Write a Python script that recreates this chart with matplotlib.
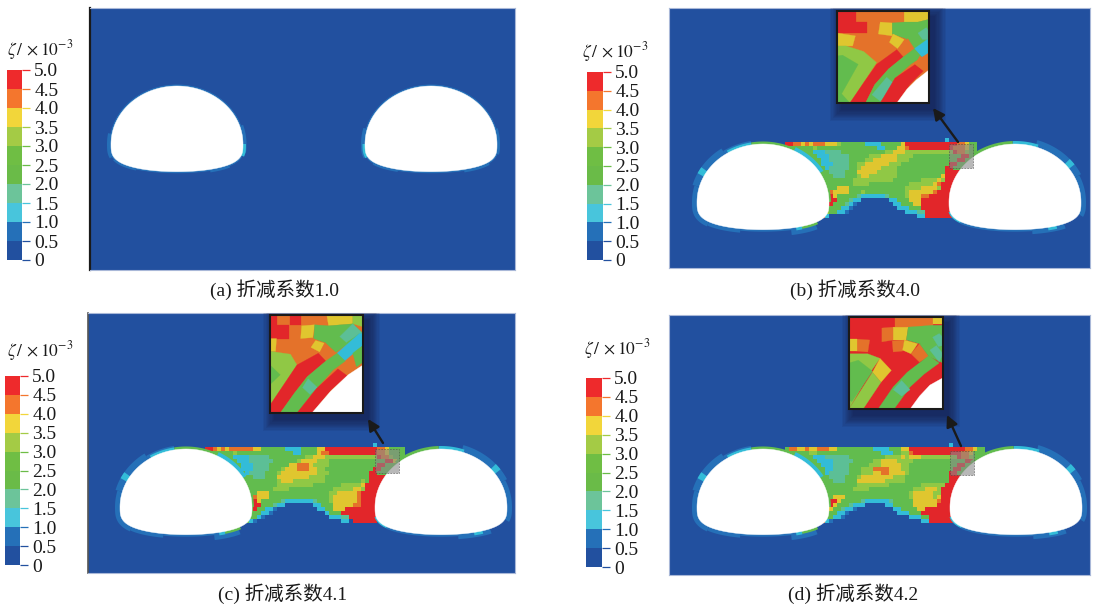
import numpy as np
import matplotlib
matplotlib.use("Agg")
import matplotlib.pyplot as plt
from matplotlib.colors import ListedColormap, BoundaryNorm
from matplotlib.patches import Polygon, Rectangle

plt.rcParams['font.family'] = ['Liberation Serif', 'Noto Sans CJK SC']
plt.rcParams['mathtext.fontset'] = 'stix'

# colour classes of zeta, 0-0.5 up to 4.5-5.0
levels = [0, 0.5, 1.0, 1.5, 2.0, 2.5, 3.0, 3.5, 4.0, 4.5, 5.0]
level_labels = ['0', '0.5', '1.0', '1.5', '2.0', '2.5', '3.0', '3.5', '4.0', '4.5', '5.0']
bar_colors = ['#22509f', '#2570b8', '#48c5dc', '#6cc49a', '#6abb48', '#6fbe44', '#a4cb45', '#f2d63a', '#f4762d', '#ee2a2c']
field_colors = ['#22509f', '#2570b8', '#33bcd8', '#5cbf96', '#60bb50', '#62bc4e', '#90c845', '#e0c62f', '#e4722a', '#e2262a']
captions = ['(a) 折减系数1.0', '(b) 折减系数4.0', '(c) 折减系数4.1', '(d) 折减系数4.2']

# element classes between the tunnels, one digit per 4 px cell
field_b = [
    "0000000000 0000000000 0000000000 0000000000 20000000",
    "9988787888 7776555555 2222555557 9999999999 99988755",
    "5555555655 5555555555 5552255577 8999999999 99888755",
    "5555555222 3333555555 5555566777 6666666666 66988655",
    "5555555522 2333335555 5666777766 6655555555 55559955",
    "5555555552 2333335555 6677777766 6555555555 55599555",
    "5555555552 2233335566 7777776665 5555555555 59955555",
    "5555555555 2333335567 7777666655 5555555555 99555555",
    "5555555555 5333355577 7776666655 5555555555 99999999",
    "5555555555 5533355567 7666666655 5555555557 99999999",
    "5555555555 5555555666 6666666555 5555666676 99999999",
    "5555555555 5555555666 6555555555 5666666789 99999999",
    "5555555555 5557775555 5555555555 6666777769 99999999",
    "5555555555 5877775556 5555555555 6777777899 99999999",
    "5555555555 5975555532 2222235555 6777889999 99999999",
    "5555555555 5995553220 0000002255 5777999999 99999999",
    "5555555555 9955532100 0000000225 5577999999 99999999",
    "5555555555 5555221000 0000000022 2555999999 99999999",
    "5555555557 6552210000 0000000000 2223399999 99999999",
    "5555555558 2000000000 0000000000 0002299999 99000000",
    "0000000000 0000000000 0000000000 0000000000 00000000",
]
field_c = [
    "0000000000 0000000000 0000000000 0000000000 0020000000",
    "9987878888 8877555555 2222555577 9999999999 9998875555",
    "5555555655 5555555555 5522555578 8999999999 9998875555",
    "5555555222 2333335555 5555566777 6666666666 6669886555",
    "5555555522 2333333555 5556777766 6555555555 5555599755",
    "5555555552 2233335555 5778887666 6555555555 5559955555",
    "5555555552 2233335556 7778887766 5555555555 5599555555",
    "5555555555 2333355567 7777777766 6555555555 5995555555",
    "5555555555 5533355577 7777776666 5555555555 5999999999",
    "5555555555 5555555567 7766666666 5555555556 5999999999",
    "5555555555 5555555566 6666666555 5555666667 9999999999",
    "5555555555 5555555666 6555555555 5566666776 9999999999",
    "5555555555 5557775555 5555555555 5667777789 9999999999",
    "5555555555 5587775555 5555555555 5677777789 9999999999",
    "5555555555 5597555553 2222222355 5677777789 9999999999",
    "5555555555 5599555322 0000000225 5577777889 9999999999",
    "5555555555 5595522100 0000000022 5577799999 9999999999",
    "5555555555 5555221000 0000000000 2555999999 9999999999",
    "5555555555 5552100000 0000000000 0222339999 9999999999",
    "5555555557 5210000000 0000000000 0000220999 9990000000",
    "0000000000 0000000000 0000000000 0000000000 0000000000",
]
field_d = [
    "0000000000 0000000000 0000000000 0000000000 0200000000",
    "5887787788 8775555555 5522225557 7999999999 9999988755",
    "5555556655 5555555555 5555222556 6899999999 9999887555",
    "5555555222 3333335555 5555566667 6777666666 6669886555",
    "5555555522 2233333555 5566777766 6655555555 5555599755",
    "5555555552 2233335555 5666777776 6555555555 5559955555",
    "5555555555 2233335556 6688887776 6555555555 5599555555",
    "5555555555 2333335556 6677887777 6555555555 5995555555",
    "5555555555 5333355567 7777777666 5555555555 5999999999",
    "5555555555 5533355577 7777766666 5555555555 5999999999",
    "5555555555 5555555566 6666665555 5555666666 9999999999",
    "5555555555 5555555666 6555555555 5566677769 9999999999",
    "5555555555 5555555555 5555555555 5677777669 9999999999",
    "5555555555 5577755555 5555555555 5677777679 9999999999",
    "5555555555 5997555553 2222223555 5577777789 9999999999",
    "5555555555 5975553222 0000022555 5577777799 9999999999",
    "5555555555 5755322100 0000000225 5557799999 9999999999",
    "5555555555 5552210000 0000000022 2555999999 9999999999",
    "5555555555 5522100000 0000000000 0222559999 9999999999",
    "5555555558 2100000000 0000000000 0000229999 9990000000",
    "0000000000 0000000000 0000000000 0000000000 0000000000",
]

# bands around the openings: start angle, end angle, class, width px
rings_a_left = [(0, 360, 1, 1.5), (170, 195, 1, 4), (200, 232, 1, 2.5), (300, 322, 1, 3), (352, 378, 1, 3.5), (347, 360, 2, 3)]
rings_a_right = [(0, 360, 1, 1.5), (165, 195, 1, 4), (180, 196, 2, 2.5), (210, 240, 1, 2.5), (300, 330, 1, 3), (350, 375, 1, 3)]
rings_left = [(125, 165, 1, 7), (165, 215, 1, 5), (215, 250, 1, 4), (250, 300, 1, 2), (295, 322, 1, 7),
              (100, 125, 1, 4), (100, 122, 2, 2.5), (148, 154, 2, 7), (62, 100, 5, 2.5), (30, 62, 2, 4),
              (0, 30, 5, 2), (306, 325, 5, 2.5), (300, 306, 2, 3)]
rings_right = [(25, 72, 1, 7), (345, 385, 1, 5), (285, 318, 1, 5), (215, 285, 1, 2), (35, 41, 2, 7),
               (300, 309, 2, 3), (70, 92, 2, 3), (92, 132, 5, 3), (190, 215, 2, 1.5)]

# close-up polygons, (class, u, v points in percent of the inset box)
inset_b = [
    (9, [(0, 0), (21, 0), (21, 12), (33, 12), (33, 24), (0, 24)]),
    (7, [(73, 0), (100, 0), (100, 9), (88, 12), (73, 12)]),
    (7, [(0, 24), (20, 27), (17, 38), (0, 38)]),
    (7, [(47, 12), (60, 13), (60, 27), (45, 25)]),
    (5, [(60, 13), (73, 12), (88, 12), (100, 9), (100, 30), (85, 45), (75, 30), (60, 25)]),
    (7, [(61, 25), (73, 31), (66, 41), (57, 34)]),
    (3, [(88, 24), (97, 18), (100, 22), (100, 31), (93, 31)]),
    (2, [(84, 41), (98, 31), (100, 32), (100, 45), (92, 50)]),
    (8, [(66, 41), (77, 30), (84, 41), (72, 52)]),
    (6, [(0, 38), (10, 38), (29, 44), (43, 56), (14, 100), (0, 100)]),
    (5, [(0, 49), (6, 48), (23, 58), (5, 90), (0, 85)]),
    (5, [(0, 85), (5, 90), (14, 100), (0, 100)]),
    (9, [(14, 100), (29, 78), (43, 58), (65, 42), (72, 50), (56, 63), (41, 80), (31, 100)]),
    (5, [(31, 100), (41, 80), (56, 63), (72, 50), (84, 41), (92, 50), (80, 58), (63, 73), (47, 100)]),
    (3, [(38, 91), (54, 72), (63, 80), (47, 98)]),
    (9, [(47, 100), (63, 73), (85, 58), (94, 65), (79, 80), (65, 100)]),
    (8, [(90, 49), (100, 55), (100, 63), (94, 65), (85, 58)]),
]
inset_b_hole = [(100, 64), (86, 75), (76, 85), (65, 100), (100, 100)]
inset_c = [
    (9, [(0, 0), (8, 0), (8, 10), (20, 10), (20, 24), (0, 24)]),
    (9, [(21, 0), (33, 0), (33, 10), (21, 10)]),
    (7, [(61, 0), (89, 0), (89, 9), (63, 11)]),
    (6, [(89, 0), (100, 0), (100, 12), (89, 9)]),
    (7, [(34, 11), (48, 10), (46, 23), (33, 24)]),
    (7, [(0, 24), (7, 24), (6, 37), (0, 37)]),
    (5, [(48, 10), (63, 11), (89, 9), (100, 19), (100, 28), (86, 28), (71, 38), (59, 28), (47, 24)]),
    (7, [(49, 26), (59, 29), (54, 38), (44, 33)]),
    (3, [(75, 22), (89, 9), (100, 19), (96, 19), (82, 28)]),
    (2, [(72, 39), (96, 19), (100, 19), (100, 31), (80, 47)]),
    (5, [(89, 39), (100, 31), (100, 48), (93, 53)]),
    (8, [(73, 56), (83, 47), (93, 53), (83, 61)]),
    (8, [(59, 28), (70, 39), (59, 46), (53, 39)]),
    (6, [(0, 37), (22, 40), (29, 51), (0, 92)]),
    (5, [(0, 51), (11, 61), (0, 71)]),
    (9, [(0, 92), (17, 68), (29, 51), (52, 39), (60, 47), (40, 63), (26, 80), (11, 100), (0, 100)]),
    (5, [(11, 100), (26, 80), (40, 63), (60, 47), (72, 39), (81, 47), (68, 56), (50, 75), (29, 100)]),
    (3, [(35, 74), (41, 65), (51, 74), (43, 81)]),
    (9, [(29, 100), (50, 75), (73, 55), (83, 62), (66, 76), (45, 100)]),
]
inset_c_hole = [(100, 51), (84, 61), (65, 78), (45, 100), (100, 100)]
inset_d = [
    (8, [(49, 0), (89, 0), (89, 11), (49, 11)]),
    (7, [(89, 0), (100, 0), (100, 8), (89, 8)]),
    (8, [(35, 12), (47, 11), (47, 25), (35, 27)]),
    (7, [(47, 11), (63, 11), (61, 25), (47, 25)]),
    (5, [(63, 11), (89, 9), (100, 9), (100, 22), (86, 27), (75, 29), (61, 25)]),
    (8, [(46, 26), (59, 25), (57, 37), (47, 38)]),
    (7, [(59, 25), (73, 29), (66, 40), (57, 36)]),
    (8, [(8, 24), (22, 25), (20, 38), (8, 37)]),
    (7, [(0, 24), (8, 24), (8, 37), (0, 37)]),
    (8, [(66, 40), (75, 29), (85, 43), (75, 49)]),
    (5, [(75, 29), (91, 20), (100, 23), (100, 50), (85, 43)]),
    (3, [(86, 36), (93, 31), (100, 40), (96, 49)]),
    (3, [(89, 22), (96, 18), (100, 22), (100, 31), (95, 32)]),
    (6, [(0, 40), (20, 40), (33, 45), (22, 61), (0, 100)]),
    (5, [(0, 50), (10, 47), (25, 59), (3, 92), (0, 90)]),
    (7, [(33, 45), (45, 58), (34, 71), (25, 60)]),
    (6, [(25, 60), (34, 71), (15, 100), (0, 100)]),
    (5, [(31, 100), (47, 76), (62, 60), (85, 42), (96, 50), (80, 62), (65, 76), (48, 100)]),
    (3, [(47, 79), (56, 69), (65, 79), (56, 86)]),
]
inset_d_hole = [(100, 66), (86, 74), (75, 86), (65, 100), (100, 100)]

W, H = 1095, 607
cmap = ListedColormap(field_colors)
norm = BoundaryNorm(levels, 10)


def tunnelOutline(cx, sy, t):
	t = np.radians(t)
	x = cx + 66 * np.cos(t)
	up = np.sin(t)
	y = np.where(up >= 0, sy - 58 * up, sy + 27.7 * np.abs(up) ** 0.6)
	return x, y


def pxAxes(x0, y0, x1, y1):
	return fig.add_axes([x0 / W, 1 - y1 / H, (x1 - x0) / W, (y1 - y0) / H])


def drawPanel(box, centers, sy, ringsL, ringsR):
	ax = pxAxes(*box)
	ax.set_xlim(box[0], box[2])
	ax.set_ylim(box[3], box[1])
	ax.set_facecolor(field_colors[0])
	ax.set_xticks([])
	ax.set_yticks([])
	for s in ax.spines.values():
		s.set_color('#a9b8d8')
		s.set_linewidth(0.8)
	for cx, rings in zip(centers, (ringsL, ringsR)):
		for t0, t1, level, width in rings:
			x, y = tunnelOutline(cx, sy, np.linspace(t0, t1, 60))
			ax.plot(x, y, color=field_colors[level], lw=2 * width * 0.72, solid_capstyle='butt', zorder=3)
		x, y = tunnelOutline(cx, sy, np.linspace(0, 360, 361))
		ax.add_patch(Polygon(np.column_stack([x, y]), closed=True, fc='white', ec='white', lw=0.3, zorder=4))
	return ax


def drawField(ax, rows, x0, y0):
	# digit is the colour class, plotted at the middle of its 0.5 wide band
	grid = np.array([[(int(c) + 0.5) * 0.5 for c in r.replace(" ", "")] for r in rows])
	xs = x0 + 4 * np.arange(grid.shape[1] + 1)
	ys = y0 + 4 * np.arange(grid.shape[0] + 1)
	ax.pcolormesh(xs, ys, grid, cmap=cmap, norm=norm, zorder=2)


def drawInset(ax, box, polys, hole, spot, tail, tip):
	x0, y0, x1, y1 = box
	ax.add_patch(Rectangle((spot[0], spot[1]), 24, 24, fc='#8a8a8a', ec='#444444', ls=(0, (2, 1.5)), lw=0.6, alpha=0.6, zorder=5))
	for i in range(10):
		g = 1 + i * 1.2
		ax.add_patch(Rectangle((x0 + 5 - g, y0 + 6 - g), x1 - x0 + 2 * g, y1 - y0 + 2 * g, fc='#14143a', ec='none', alpha=0.08, zorder=6))
	ax.add_patch(Rectangle((x0, y0), x1 - x0, y1 - y0, fc=field_colors[8] if polys is not inset_d else field_colors[9], ec='none', zorder=7))
	for level, pts in polys:
		pts = [(x0 + u / 100 * (x1 - x0), y0 + v / 100 * (y1 - y0)) for u, v in pts]
		ax.add_patch(Polygon(pts, closed=True, fc=field_colors[level], ec=field_colors[level], lw=0.2, zorder=8))
	pts = [(x0 + u / 100 * (x1 - x0), y0 + v / 100 * (y1 - y0)) for u, v in hole]
	ax.add_patch(Polygon(pts, closed=True, fc='white', ec='white', lw=0.2, zorder=9))
	ax.add_patch(Rectangle((x0, y0), x1 - x0, y1 - y0, fc='none', ec='#1a1a1a', lw=1.5, zorder=10))
	ax.annotate('', xy=tip, xytext=tail, zorder=11,
		arrowprops=dict(arrowstyle='-|>', lw=1.7, color='#1a1a1a', mutation_scale=17, shrinkA=0, shrinkB=0))


def drawColorbar(x0, y0, x1, y1, tx, ty):
	ax = pxAxes(x0, y0, x1, y1)
	ax.bar(0.5, 0.5, width=1, bottom=levels[:-1], color=bar_colors)
	ax.set_xlim(0, 1)
	ax.set_ylim(0, 5)
	ax.set_xticks([])
	ax.yaxis.tick_right()
	ax.set_yticks(levels)
	ax.set_yticklabels(level_labels, fontsize=14, color='#1a1a1a')
	ax.tick_params(axis='y', length=5.8, width=0.9, pad=3)
	for i, tick in enumerate(ax.yaxis.get_major_ticks()):
		tick.tick2line.set_markeredgecolor(bar_colors[max(i - 1, 0)])
	for s in ax.spines.values():
		s.set_visible(False)
	fig.text(tx / W, 1 - ty / H, r"$\zeta\,/\,\times 10^{-3}$", fontsize=12.5, color='#1a1a1a', va='center')


fig = plt.figure(figsize=(W / 100, H / 100), dpi=100)

axA = drawPanel((90, 8, 515, 270), (177, 431), 144, rings_a_left, rings_a_right)
axA.spines['left'].set_color('#1a1a1a')
axA.spines['left'].set_linewidth(1.6)

axB = drawPanel((669, 8, 1090, 268), (763, 1015), 202, rings_left, rings_right)
drawField(axB, field_b, 785, 138)
drawInset(axB, (837, 11, 929, 103), inset_b, inset_b_hole, (949, 144), (958, 142), (933, 108))

axC = drawPanel((88, 313, 515, 573), (186, 441), 507, rings_left, rings_right)
axC.spines['left'].set_color('#555555')
axC.spines['left'].set_linewidth(1.2)
drawField(axC, field_c, 205, 443)
drawInset(axC, (270, 315, 363, 413), inset_c, inset_c_hole, (375, 449), (383, 443), (368, 419))

axD = drawPanel((669, 315, 1090, 575), (763, 1016), 507, rings_left, rings_right)
drawField(axD, field_d, 785, 443)
drawInset(axD, (849, 317, 943, 409), inset_d, inset_d_hole, (950, 451), (961, 446), (947, 415))

drawColorbar(6.5, 70, 22, 260, 7, 50)
drawColorbar(587, 72, 603, 260, 582, 52)
drawColorbar(5, 376, 20, 565, 7, 351)
drawColorbar(586, 378, 602, 567, 584, 349)

for text, x, y in zip(captions, (275, 855, 283, 853), (290, 290, 594, 594)):
	fig.text(x / W, 1 - y / H, text, fontsize=14, color='#1a1a1a', ha='center', va='center')

fig.savefig("out.png", dpi=100)
